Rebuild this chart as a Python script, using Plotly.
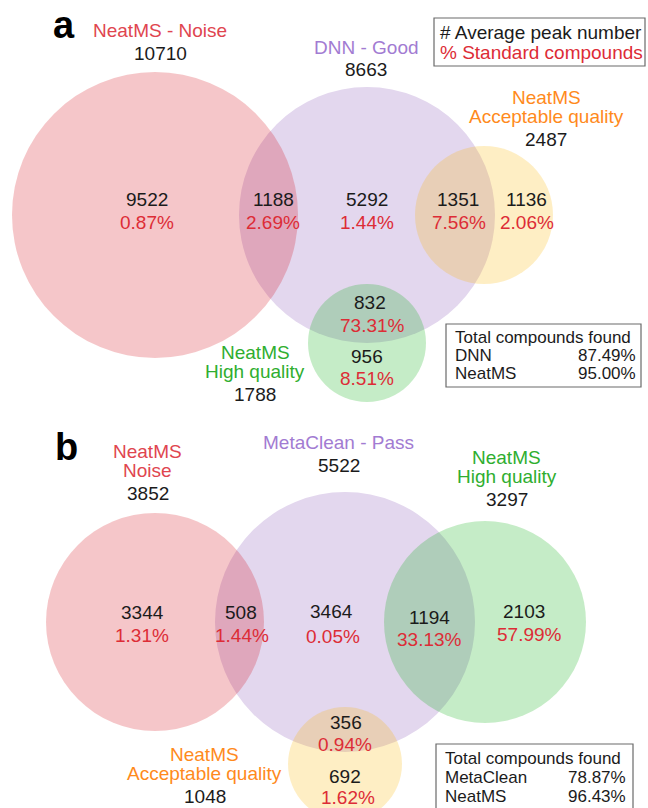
import plotly.graph_objects as go

# ---------------- data ----------------
# Panel a
a_set_names = [["NeatMS - Noise"], ["DNN - Good"], ["NeatMS", "Acceptable quality"], ["NeatMS", "High quality"]]
a_set_totals = ["10710", "8663", "2487", "1788"]
a_region_counts = ["9522", "1188", "5292", "1351", "1136", "832", "956"]
a_region_pcts = ["0.87%", "2.69%", "1.44%", "7.56%", "2.06%", "73.31%", "8.51%"]
a_found_names = ["DNN", "NeatMS"]
a_found_pcts = ["87.49%", "95.00%"]

# Panel b
b_set_names = [["NeatMS", "Noise"], ["MetaClean - Pass"], ["NeatMS", "High quality"], ["NeatMS", "Acceptable quality"]]
b_set_totals = ["3852", "5522", "3297", "1048"]
b_region_counts = ["3344", "508", "3464", "1194", "2103", "356", "692"]
b_region_pcts = ["1.31%", "1.44%", "0.05%", "33.13%", "57.99%", "0.94%", "1.62%"]
b_found_names = ["MetaClean", "NeatMS"]
b_found_pcts = ["78.87%", "96.43%"]

legend_lines = ["# Average peak number", "% Standard compounds"]
found_title = "Total compounds found"
panel_letters = ["a", "b"]

# ---------------- layout geometry (pixels) ----------------
FONT = "Liberation Sans, Arial, sans-serif"
BLACK = "#1b1b1b"
RED = "#dd2c36"
C_RED = "#e0454f"
C_PURPLE = "#a27bd2"
C_ORANGE = "#ff8a1c"
C_GREEN = "#2fae2f"

FILL_PURPLE = "rgb(227,215,238)"
FILL_PINK = "rgba(210,0,13,0.2235)"
FILL_YELLOW = "rgba(251,181,0,0.2314)"
FILL_GREEN = "rgba(0,171,9,0.2275)"

# circles: (cx, cy, r, fill) drawn in order
a_circles = [(367, 215, 128, FILL_PURPLE), (155, 215, 143, FILL_PINK),
             (484, 215, 69, FILL_YELLOW), (367, 343, 59, FILL_GREEN)]
b_circles = [(345, 622, 130, FILL_PURPLE), (155, 622, 109, FILL_PINK),
             (485, 622, 101, FILL_GREEN), (345, 764, 57, FILL_YELLOW)]

a_set_colors = [C_RED, C_PURPLE, C_ORANGE, C_GREEN]
b_set_colors = [C_RED, C_PURPLE, C_GREEN, C_ORANGE]
# label blocks: (center x, y of first line)
a_set_pos = [(160, 29.5), (366, 46), (546, 96), (255, 351)]
b_set_pos = [(147.5, 450), (338.5, 441.5), (506.5, 456), (204.5, 753)]
LINE = 19.5

a_region_pos = [(147, 198.5), (273, 198.5), (367, 198.5), (458, 198.5), (526.5, 198.5), (370, 301.5), (367, 355)]
a_pct_pos = [(147, 221.5), (272.5, 221.5), (367, 221.5), (459, 221.5), (527, 221.5), (372.5, 324), (367, 377)]
b_region_pos = [(142, 611), (241, 611), (331, 610), (429, 616), (523.5, 610), (345.5, 721.5), (345, 775)]
b_pct_pos = [(142, 634), (242, 634), (333, 635), (429, 638.5), (529, 633), (345, 743.5), (347.5, 796)]

legend_box = (434, 18, 645, 66)
legend_text_x = 438
legend_text_y = [31, 51.5]

a_found_box = (446, 324, 641, 387)
a_found_x = (453, 638)
a_found_y = [336, 354, 372]
b_found_box = (436, 744, 633, 815)
b_found_x = (443, 628)
b_found_y = [757, 776, 795]

letter_pos = [(64, 24), (66, 446)]

YOFF = 1.0  # visual centre correction

fig = go.Figure()
shapes = []
annots = []


def txt(x, y, s, size=19, color=BLACK, xanchor="center", bold=False):
    annots.append(dict(
        x=x, y=y + YOFF, xref="x", yref="y", text=("<b>%s</b>" % s) if bold else s,
        showarrow=False, xanchor=xanchor, yanchor="middle",
        font=dict(family=FONT, size=size, color=color)))


def circle(cx, cy, r, fill):
    shapes.append(dict(type="circle", xref="x", yref="y", x0=cx - r, x1=cx + r,
                       y0=cy - r, y1=cy + r, fillcolor=fill, line=dict(width=0),
                       layer="below"))


def rect(box):
    shapes.append(dict(type="rect", xref="x", yref="y", x0=box[0], y0=box[1],
                       x1=box[2], y1=box[3], line=dict(color="#6a6a6a", width=1.2),
                       fillcolor="rgba(0,0,0,0)", layer="above"))


def panel(circles, names, colors, totals, set_pos, counts, cpos, pcts, ppos,
          fbox, fx, fy, fnames, fpcts):
    for c in circles:
        circle(*c)
    for lines, col, tot, (x, y) in zip(names, colors, totals, set_pos):
        for i, ln in enumerate(lines):
            txt(x, y + i * LINE, ln, color=col)
        txt(x, y + len(lines) * LINE + 3, tot)
    for s, (x, y) in zip(counts, cpos):
        txt(x, y, s)
    for s, (x, y) in zip(pcts, ppos):
        txt(x, y, s, color=RED)
    rect(fbox)
    txt(fx[0], fy[0], found_title, size=17, xanchor="left")
    for nm, pc, y in zip(fnames, fpcts, fy[1:]):
        txt(fx[0], y, nm, size=17, xanchor="left")
        txt(fx[1], y, pc, size=17, xanchor="right")


panel(a_circles, a_set_names, a_set_colors, a_set_totals, a_set_pos,
      a_region_counts, a_region_pos, a_region_pcts, a_pct_pos,
      a_found_box, a_found_x, a_found_y, a_found_names, a_found_pcts)
panel(b_circles, b_set_names, b_set_colors, b_set_totals, b_set_pos,
      b_region_counts, b_region_pos, b_region_pcts, b_pct_pos,
      b_found_box, b_found_x, b_found_y, b_found_names, b_found_pcts)

rect(legend_box)
txt(legend_text_x, legend_text_y[0], legend_lines[0], xanchor="left")
txt(legend_text_x, legend_text_y[1], legend_lines[1], color=RED, xanchor="left")

for letter, (x, y) in zip(panel_letters, letter_pos):
    txt(x, y, letter, size=38, color="#000000", bold=True)

fig.update_layout(
    width=648, height=808,
    margin=dict(l=0, r=0, t=0, b=0),
    paper_bgcolor="white", plot_bgcolor="white",
    xaxis=dict(range=[0, 648], visible=False, fixedrange=True),
    yaxis=dict(range=[808, 0], visible=False, fixedrange=True),
    shapes=shapes, annotations=annots, showlegend=False,
)
fig.write_html(
    "out.html",
    config={"displayModeBar": False},
    post_script="document.body.style.margin='0';document.body.style.overflow='hidden';",
)
